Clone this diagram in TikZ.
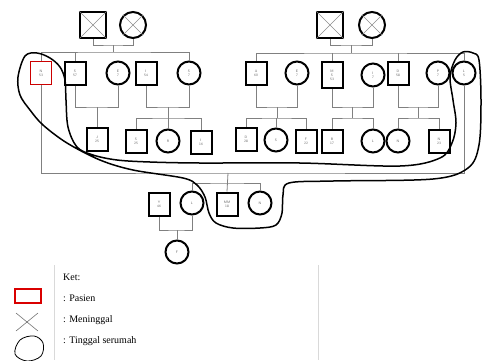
\documentclass[tikz,border=0pt]{standalone}
\usepackage{fontspec}
\setmainfont{Liberation Serif}
\usepackage{tikz}

\begin{document}
\begin{tikzpicture}[x=1pt,y=-1pt,
    pria/.style={draw,line width=2pt,minimum width=21pt,minimum height=23pt,inner sep=0pt,
      align=center,text=black!60,font=\sffamily\fontsize{3.5}{4}\selectfont},
    wanita/.style={pria,circle,minimum size=23pt},
    garis/.style={draw=black!50,line width=0.8pt},
    silang/.style={draw=black!45,line width=0.6pt},
    keterangan/.style={anchor=west,inner sep=0pt,font=\fontsize{10}{12}\selectfont}]
        % Margini
        \useasboundingbox (0,0) rectangle (482,360);

        % Nonni (sinistra e destra)
        \node[pria,minimum size=26pt] (kakekA) at (93,25) {};
        \node[wanita,minimum size=26pt] (nenekA) at (133,25) {};
        \node[pria,minimum size=26pt] (kakekB) at (330,25) {};
        \node[wanita,minimum size=26pt] (nenekB) at (372,25) {};
        \foreach \p in {kakekA,nenekA,kakekB,nenekB}
          \draw[silang] (\p.north west) -- (\p.south east) (\p.north east) -- (\p.south west);

        % Prima generazione
        \node[pria,draw=red!80!black,line width=1.4pt] (n53) at (41,73) {N\\53};
        \node[pria] (s57) at (75,73) {S\\57};
        \node[wanita] (e) at (118,73) {E\\7};
        \node[pria] (i54) at (146,73) {I\\54};
        \node[wanita] (s) at (189,73) {S\\7};
        \node[pria] (a60) at (256,73) {A\\60};
        \node[wanita] (ea) at (297,73) {E\\7};
        \node[pria,minimum height=26pt] (m53) at (332,75) {M\\S\\53};
        \node[wanita] (sm) at (373,75) {I\\7};
        \node[pria] (d58) at (398,73) {D\\58};
        \node[wanita] (p) at (438,73) {P\\7};
        \node[wanita] (l) at (464,73) {L\\5};

        % Seconda generazione
        \node[pria] (j25) at (97,139) {J\\25};
        \node[pria] (s25) at (136,141) {S\\25};
        \node[wanita] (r) at (168,141) {R};
        \node[pria] (i16) at (201,142) {I\\16};
        \node[pria] (d28) at (246,139) {D\\28};
        \node[wanita] (sa) at (276,140) {S};
        \node[pria] (f22) at (306,141) {F\\22};
        \node[pria] (b17) at (332,141) {B\\17};
        \node[wanita] (lm) at (373,141) {L};
        \node[wanita] (nd) at (398,141) {N};
        \node[pria] (n23) at (439,141) {N\\23};

        % Figli del paziente
        \node[pria] (y46) at (159,204) {Y\\46};
        \node[wanita] (lc) at (192,203) {L};
        \node[pria] (mm18) at (227,204) {MM\\18};
        \node[wanita] (nc) at (260,203) {N};
        \node[wanita] (f) at (177,252) {F};

        % Coppie e fratelli (sinistra)
        \coordinate (kA) at (113,45);
        \coordinate (ksA) at (113,52);
        \draw[garis] (kakekA.south) |- (kA) -| (nenekA.south);
        \draw[garis] (kA) -- (ksA);
        \draw[garis] (n53.north) |- (ksA) -| (s.north);
        \draw[garis] (s57.north) -- (s57.north |- ksA);

        % Coppie e fratelli (destra)
        \coordinate (kB) at (351,45);
        \coordinate (ksB) at (351,53);
        \draw[garis] (kakekB.south) |- (kB) -| (nenekB.south);
        \draw[garis] (kB) -- (ksB);
        \draw[garis] (a60.north) |- (ksB) -| (l.north);
        \draw[garis] (m53.north) -- (m53.north |- ksB);
        \draw[garis] (d58.north) -- (d58.north |- ksB);

        % Matrimoni della prima generazione
        \coordinate (jSE) at (97,107);
        \draw[garis] (s57.south) |- (jSE) -| (e.south);
        \draw[garis] (jSE) -- (j25.north);

        \coordinate (jIS) at (168,107);
        \coordinate (sIS) at (168,118);
        \draw[garis] (i54.south) |- (jIS) -| (s.south);
        \draw[garis] (jIS) -- (r.north);
        \draw[garis] (s25.north) |- (sIS) -| (i16.north);

        \coordinate (jAE) at (277,107);
        \coordinate (sAE) at (277,118);
        \draw[garis] (a60.south) |- (jAE) -| (ea.south);
        \draw[garis] (jAE) -- (sAE);
        \draw[garis] (d28.north) |- (sAE) -| (f22.north);
        \draw[garis] (sa.north) -- (sa.north |- sAE);

        \coordinate (jMI) at (352,107);
        \coordinate (sMI) at (352,118);
        \draw[garis] (m53.south) |- (jMI) -| (sm.south);
        \draw[garis] (jMI) -- (sMI);
        \draw[garis] (b17.north) |- (sMI) -| (lm.north);

        \coordinate (jDP) at (418,107);
        \coordinate (sDP) at (418,118);
        \draw[garis] (d58.south) |- (jDP) -| (p.south);
        \draw[garis] (jDP) -- (sDP);
        \draw[garis] (nd.north) |- (sDP) -| (n23.north);

        % Paziente e moglie
        \coordinate (jNL) at (228,173);
        \coordinate (sNL) at (228,183);
        \draw[garis] (n53.south) |- (jNL) -| (l.south);
        \draw[garis] (jNL) -- (mm18.north);
        \draw[garis] (lc.north) |- (sNL) -| (nc.north);

        \coordinate (jYL) at (177,230);
        \draw[garis] (y46.south) |- (jYL) -| (lc.south);
        \draw[garis] (jYL) -- (f.north);

        % Tinggal serumah (linea a mano)
        \draw[line width=1.5pt,line join=round] plot[smooth cycle,tension=0.55] coordinates {
          (25,56) (37,53) (50,58) (60,67) (65,80) (66,100) (68,127) (77,147) (93,155)
          (117,160) (150,162) (200,163) (300,163) (400,166) (440,158) (452,143)
          (456,123) (453,100) (450,77) (455,60) (463,52) (473,53) (479,60) (481,100)
          (479,145) (468,168) (433,179) (333,181) (289,183) (283,195) (282,213)
          (276,225) (260,228) (233,228) (216,223) (209,213) (205,197) (197,185)
          (183,178) (133,170) (100,160) (67,143) (43,125) (30,110) (20,95) (18,77)};

        % Legenda
        \draw[black!15] (54,265) -- (54,360);
        \draw[black!15] (318,265) -- (318,360);
        \node[keterangan] (ket) at (63,277) {Ket:};
        \node[keterangan] (pasien) at (63,298) {: Pasien};
        \node[keterangan] (meninggal) at (63,320) {: Meninggal};
        \node[keterangan] (serumah) at (63,341) {: Tinggal serumah};
        \node[draw=red!85!black,line width=1.3pt,minimum width=26pt,minimum height=14pt,inner sep=0pt] (lgPasien) at (28,296) {};
        \draw[silang,draw=black!55] (16,313) -- (38,331) (38,313) -- (16,331);
        \draw[line width=0.8pt] plot[smooth cycle,tension=0.6] coordinates {
          (20,340) (34,336) (43,343) (41,356) (27,361) (15,354)};

    \end{tikzpicture}
\end{document}
